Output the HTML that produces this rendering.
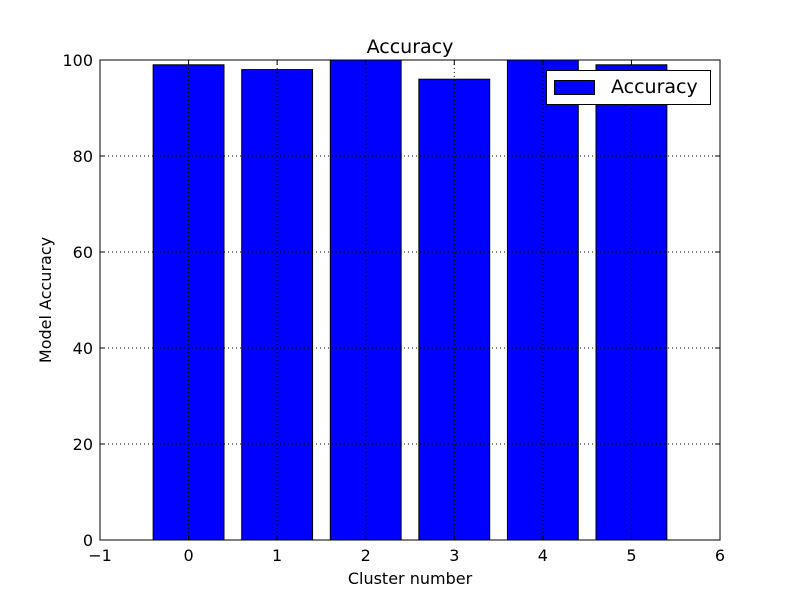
<!DOCTYPE html>
<html><head><meta charset="utf-8"><style>body{margin:0;background:#fff}svg text{font-family:"DejaVu Sans","Liberation Sans",sans-serif}</style></head>
<body>
<svg id="chart" width="800" height="600"></svg>
<script>
const categories = [0, 1, 2, 3, 4, 5];
const accuracyValues = [99, 98, 100, 96, 100, 99];
const xTickLabels = [-1, 0, 1, 2, 3, 4, 5, 6];
const yTickLabels = [0, 20, 40, 60, 80, 100];

const svg = document.getElementById('chart');
const NS = 'http://www.w3.org/2000/svg';
const L = 100, R = 720, T = 60, B = 540;
const xs = v => L + (v - (-1)) / 7 * (R - L);
const ys = v => B - v / 100 * (B - T);
function mk(tag, attrs, parent) {
  const e = document.createElementNS(NS, tag);
  for (const k in attrs) e.setAttribute(k, attrs[k]);
  (parent || svg).appendChild(e);
  return e;
}
categories.forEach((c, i) => {
  const b = mk('rect', {x: xs(c - 0.4), y: ys(accuracyValues[i]), width: xs(c + 0.4) - xs(c - 0.4), height: ys(0) - ys(accuracyValues[i]), fill: '#0000ff', stroke: '#000', 'stroke-width': 1});
  
  
});
yTickLabels.forEach(v => {
  const y = ys(v);
  if (v > 0 && v < 100) {
    const g = mk('line', {x1: L, x2: R, y1: y, y2: y, stroke: '#000', 'stroke-dasharray': '1,3', 'stroke-width': 1});
    
    
  }
  mk('line', {x1: L, x2: L + 5, y1: y, y2: y, stroke: '#000'});
  mk('line', {x1: R, x2: R - 5, y1: y, y2: y, stroke: '#000'});
  const t = mk('text', {x: L - 7, y: y + 6, 'text-anchor': 'end', 'font-size': 16});
  t.textContent = v;
  
  
});
xTickLabels.forEach(v => {
  const x = xs(v);
  if (v > -1 && v < 6) {
    const g = mk('line', {x1: x, x2: x, y1: T, y2: B, stroke: '#000', 'stroke-dasharray': '1,3', 'stroke-width': 1});
    
    
  }
  mk('line', {x1: x, x2: x, y1: B, y2: B - 5, stroke: '#000'});
  mk('line', {x1: x, x2: x, y1: T, y2: T + 5, stroke: '#000'});
  const t = mk('text', {x: x, y: B + 21, 'text-anchor': 'middle', 'font-size': 16});
  t.textContent = v < 0 ? '\u2212' + Math.abs(v) : v;
  
  
});
const f = mk('rect', {x: L, y: T, width: R - L, height: B - T, fill: 'none', stroke: '#000', 'stroke-width': 1});


</script>
<svg width="800" height="600" style="position:absolute;left:0;top:0">
  <text x="410" y="53" text-anchor="middle" font-size="19">Accuracy</text>
  <text x="410" y="584" text-anchor="middle" font-size="16">Cluster number</text>
  <text transform="translate(51,300) rotate(-90)" text-anchor="middle" font-size="16">Model Accuracy</text>
  <g>
    <rect x="546.5" y="70.5" width="164" height="34" fill="#fff" stroke="#000"/>
    <rect x="554.5" y="80.5" width="40" height="14" fill="#0000ff" stroke="#000"/>
    <text x="611" y="93" font-size="19">Accuracy</text>
  </g>
</svg>
</body></html>
